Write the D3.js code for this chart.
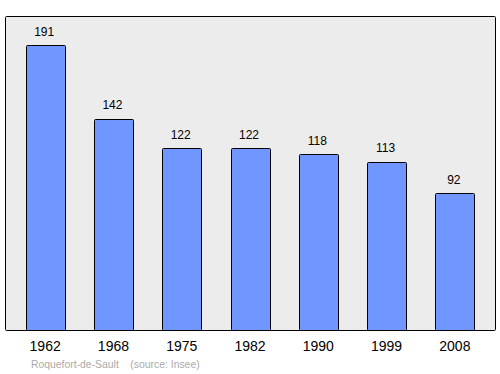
<!DOCTYPE html>
<html>
<head>
<meta charset="utf-8">
<script src="https://cdn.jsdelivr.net/npm/d3@7"></script>
<style>
body { margin: 0; background: #fff; }
text { font-family: "Liberation Sans", Arial, sans-serif; }
</style>
</head>
<body>
<svg id="chart" width="500" height="374"></svg>
<script>
var years = ["1962", "1968", "1975", "1982", "1990", "1999", "2008"];
var population = [191, 142, 122, 122, 118, 113, 92];
var townName = "Roquefort-de-Sault";
var sourceNote = "(source: Insee)";

var svg = d3.select("#chart");

var plotLeft = 5.5, plotRight = 495.5, plotTop = 16.5, plotBottom = 330.5;

//plot background
svg.append("rect")
	.attr("x", plotLeft)
	.attr("y", plotTop)
	.attr("width", plotRight - plotLeft)
	.attr("height", plotBottom - plotTop)
	.attr("rx", 1)
	.attr("fill", "#ececec")
	.attr("stroke", "#000")
	.attr("stroke-width", 1);

var x = d3.scaleBand()
	.domain(years)
	.range([11, 489])
	.paddingInner(0.43)
	.paddingOuter(0.215);

var y = d3.scaleLinear()
	.domain([0, 210.4])
	.range([plotBottom, plotTop]);

var data = years.map(function(d, i) { return {year: d, value: population[i]}; });

svg.selectAll(".bar")
	.data(data)
	.enter().append("rect")
	.attr("class", "bar")
	.attr("x", function(d) { return Math.round(x(d.year)) + 0.5; })
	.attr("y", function(d) { return Math.round(y(d.value)) + 0.5; })
	.attr("width", Math.round(x.bandwidth()))
	.attr("height", function(d) { return plotBottom - Math.round(y(d.value)) - 0.5; })
	.attr("rx", 1)
	.attr("fill", "#7097ff")
	.attr("stroke", "#000")
	.attr("stroke-width", 1);

//value labels
svg.selectAll(".val")
	.data(data)
	.enter().append("text")
	.attr("class", "val")
	.attr("x", function(d) { return x(d.year) + x.bandwidth() / 2 - 1; })
	.attr("y", function(d) { return y(d.value) - 9.5; })
	.attr("text-anchor", "middle")
	.attr("font-size", "12px")
	.attr("fill", "#000")
	.text(function(d) { return d.value; });

//year axis (no line, just labels)
var xAxis = svg.append("g")
	.attr("transform", "translate(0," + plotBottom + ")")
	.call(d3.axisBottom(x).tickSize(0).tickPadding(11));
xAxis.select(".domain").remove();
xAxis.selectAll("text")
	.attr("font-size", "14px")
	.attr("font-family", "'Liberation Sans', Arial, sans-serif")
	.attr("fill", "#000");

//footer
svg.append("text")
	.attr("x", 31)
	.attr("y", 368)
	.attr("font-size", "10.4px")
	.attr("fill", "#aaa")
	.text(townName + "\u00a0\u00a0\u00a0\u00a0" + sourceNote);
</script>
</body>
</html>
